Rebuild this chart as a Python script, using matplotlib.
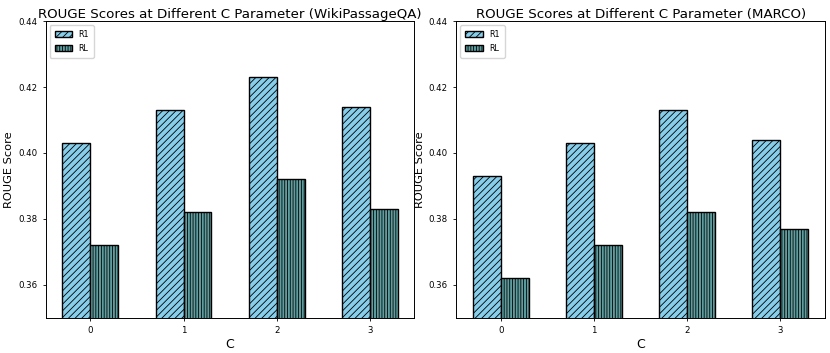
import numpy as np
import matplotlib
matplotlib.use('Agg')
from matplotlib import pyplot as plt

c_values = [0, 1, 2, 3]
wiki_r1 = [0.403, 0.413, 0.423, 0.414]
wiki_rl = [0.372, 0.382, 0.392, 0.383]
marco_r1 = [0.393, 0.403, 0.413, 0.404]
marco_rl = [0.362, 0.372, 0.382, 0.377]
datasets = ['WikiPassageQA', 'MARCO']

plt.rcParams['hatch.linewidth'] = 0.6

fig, axes = plt.subplots(1, 2, figsize=(8.3, 3.53), dpi=100)
width = 0.3
x = np.arange(len(c_values))

for ax, name, r1, rl in zip(axes, datasets, [wiki_r1, marco_r1], [wiki_rl, marco_rl]):
    ax.bar(x - width / 2, r1, width, label='R1', color='skyblue',
           edgecolor='black', hatch='/////', linewidth=1.0)
    ax.bar(x + width / 2, rl, width, label='RL', color='cadetblue',
           edgecolor='black', hatch='||||||', linewidth=1.0)
    ax.set_ylim(0.35, 0.44)
    ax.set_yticks([0.36, 0.38, 0.40, 0.42, 0.44])
    ax.set_xticks(x)
    ax.set_xticklabels([str(c) for c in c_values])
    ax.tick_params(labelsize=6.2, length=2.5, width=0.6)
    for s in ax.spines.values():
        s.set_linewidth(0.7)
    ax.set_xlabel('C', fontsize=9, labelpad=2)
    ax.set_ylabel('ROUGE Score', fontsize=8.2, labelpad=3)
    ax.set_title(f'ROUGE Scores at Different C Parameter ({name})', fontsize=9.6, pad=2)
    ax.legend(loc='upper left', fontsize=5.8, handlelength=2.2, borderpad=0.6,
              labelspacing=0.6)

plt.subplots_adjust(left=0.055, right=0.994, top=0.94, bottom=0.1, wspace=0.113)
plt.savefig('out.png')
plt.close()
